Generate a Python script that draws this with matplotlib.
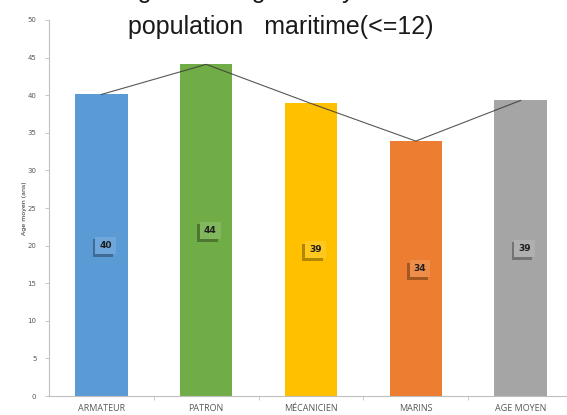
import numpy as np
import matplotlib
matplotlib.use('Agg')
import matplotlib.pyplot as plt
import matplotlib.patheffects as pe
from matplotlib.colors import to_rgb

# ── data ──────────────────────────────────────────────────────────────────────
categories = ['ARMATEUR', 'PATRON', 'MÉCANICIEN', 'MARINS', 'AGE MOYEN']
ages = [40.1, 44.1, 38.9, 33.9, 39.3]
colors = ['#5B9BD5', '#70AD47', '#FFC000', '#ED7D31', '#A5A5A5']
yticks = list(range(0, 51, 5))


def lighten(c, f=0.12):
    r = np.array(to_rgb(c))
    return tuple(r + (1 - r) * f)


# ── figure ────────────────────────────────────────────────────────────────────
W, H = 567, 415
fig = plt.figure(figsize=(W / 100, H / 100), dpi=100)
ax = fig.add_axes([49 / W, 19 / H, 524 / W, 376 / H])

x = np.arange(len(categories))
ax.bar(x, ages, width=0.5, color=colors, zorder=2)
ax.plot(x, ages, color='#3a3a3a', lw=0.8, alpha=0.85, zorder=3)

# value boxes in the middle of each bar, Excel-style with drop shadow
for xi, v, c in zip(x, ages, colors):
    t = ax.text(xi + 0.04, v / 2, f'{v:.0f}', ha='center', va='center',
                fontsize=6.5, fontweight='bold', color='#1f1f1f', zorder=5,
                bbox=dict(boxstyle='square,pad=0.45', fc=lighten(c), ec='none'))
    t.get_bbox_patch().set_path_effects([
        pe.SimplePatchShadow(offset=(-2, -2), shadow_rgbFace='#000000', alpha=0.3),
        pe.Normal()])

ax.set_xlim(-0.5, len(categories) - 0.5)
ax.set_ylim(0, 50)
ax.set_yticks(yticks)
ax.tick_params(axis='y', labelsize=5, colors='#595959', length=3, width=0.6,
               pad=6)
ax.set_xticks(x)
ax.set_xticklabels(categories, fontsize=6.5, color='#595959', family='Open Sans')
ax.tick_params(axis='x', length=0, pad=6)
ax.set_xticks(np.arange(0.5, len(categories) - 0.5, 1), minor=True)
ax.tick_params(axis='x', which='minor', length=3, width=0.6, color='#bfbfbf')
ax.tick_params(axis='y', color='#bfbfbf')

for s in ['top', 'right']:
    ax.spines[s].set_visible(False)
for s in ['left', 'bottom']:
    ax.spines[s].set_color('#bfbfbf')
    ax.spines[s].set_linewidth(0.8)

ax.set_ylabel('Age moyen (ans)', fontsize=4.5, color='#262626', labelpad=3)
ax.yaxis.set_label_coords(-22 / 524, 0.5)

# title, first line runs off the top edge
fig.text(117 / W, 1 + 2 / H, 'Figure 1 :  Age    moyen de la', fontsize=18,
         family='Liberation Sans', va='baseline', ha='left', color='#1a1a1a')
fig.text(128 / W, 1 - 34 / H, 'population   maritime(<=12)', fontsize=18,
         family='Liberation Sans', va='baseline', ha='left', color='#1a1a1a')

fig.savefig('out.png', dpi=100)
